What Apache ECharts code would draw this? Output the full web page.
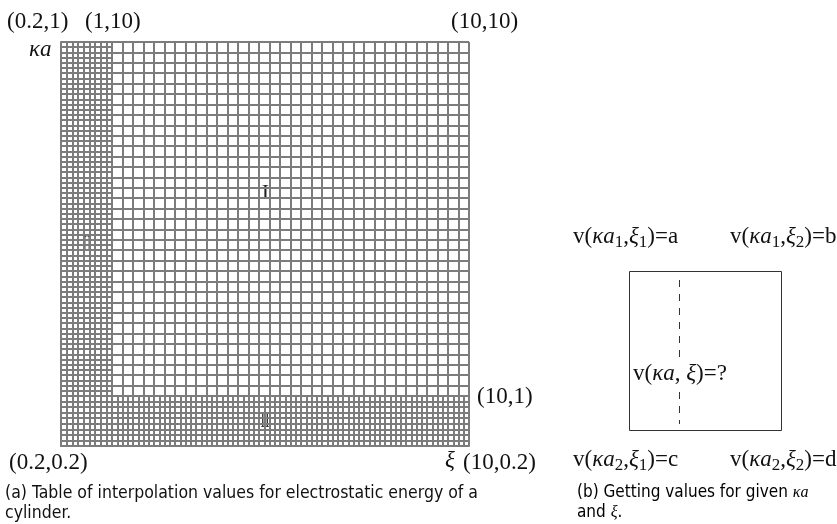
<!DOCTYPE html>
<html>
<head>
<meta charset="utf-8">
<script src="https://cdn.jsdelivr.net/npm/echarts@6/dist/echarts.min.js"></script>
<style>
  html, body { margin: 0; padding: 0; background: #fff; }
  #main { width: 837px; height: 524px; }
</style>
</head>
<body>
<div id="main"></div>
<script>
// Interpolation table layout: a fine strip for small values, coarse cells elsewhere,
// with the coarse cells split in two inside the fine strips.
const fineCells = 9;      // cells across the fine strip (0.2 .. 1)
const coarseCells = 34;   // cells across the coarse range (1 .. 10)
const splitFactor = 2;    // coarse cells are halved inside the fine strips

const cornerLabels = ['(0.2,1)', '(1,10)', '(10,10)', '(0.2,0.2)', '(10,0.2)', '(10,1)'];
const regionLabels = ['I', 'II', 'II'];
const cellLabels = ['a', 'b', 'c', 'd'];
const captions = [
  '(a) Table of interpolation values for electrostatic energy of a\ncylinder.',
  '(b) Getting values for given '
];

const SERIF = '"Liberation Serif", "DejaVu Serif", serif';
const CAPTION = '"Liberation Sans Narrow", "DejaVu Sans Condensed", "Liberation Sans", sans-serif';
const MESH = '#7c7c7c';

// panel geometry (pixels)
const X0 = 61, X1 = 112, X2 = 469;
const Y0 = 42, Y1 = 396, Y2 = 446;

// each panel: [left, top, width, height, columns, rows]
const panels = [
  [X0, Y0, X1 - X0, Y1 - Y0, fineCells, coarseCells * splitFactor],
  [X1, Y0, X2 - X1, Y1 - Y0, coarseCells, coarseCells],
  [X0, Y1, X1 - X0, Y2 - Y1, fineCells, fineCells],
  [X1, Y1, X2 - X1, Y2 - Y1, coarseCells * splitFactor, fineCells]
];

const grids = [], xAxes = [], yAxes = [], series = [];
panels.forEach((p, i) => {
  grids.push({ left: p[0], top: p[1], width: p[2], height: p[3], containLabel: false });
  const mk = (max) => ({
    type: 'value', min: 0, max: max, interval: 1, gridIndex: i,
    axisLabel: { show: false }, axisTick: { show: false },
    axisLine: { show: true, lineStyle: { color: MESH, width: 2 } },
    splitLine: { show: true, showMinLine: true, showMaxLine: true,
      lineStyle: { color: MESH, width: 2 } }
  });
  xAxes.push(mk(p[4]));
  yAxes.push(mk(p[5]));
  series.push({ type: 'scatter', xAxisIndex: i, yAxisIndex: i, data: [], silent: true });
});

const FS = 23;
function txt(x, y, text, extra) {
  return {
    type: 'text', x: x, y: y, silent: true,
    style: Object.assign({ text: text, font: FS + 'px ' + SERIF, fill: '#111', textVerticalAlign: 'middle' }, extra || {})
  };
}

const rich = {
  n: { fontFamily: SERIF, fontSize: 23, color: '#111' },
  i: { fontFamily: SERIF, fontSize: 23, fontStyle: 'italic', color: '#111' },
  s: { fontFamily: SERIF, fontSize: 17, color: '#111', padding: [11, 0, 0, 0] }
};
function richTxt(x, y, str, extra) {
  return { type: 'text', x: x, y: y, silent: true, z: 10,
    style: Object.assign({ text: str, rich: rich, verticalAlign: 'middle', fill: '#111' }, extra || {}) };
}
function valueLabel(k, xi, v) {
  return '{n|v(}{i|κa}{s|' + k + '}{n|,}{i|ξ}{s|' + xi + '}{n|)=' + v + '}';
}

// region numerals, drawn narrow
function region(x, y, text, sx) {
  return { type: 'text', x: x, y: y, silent: true, scaleX: sx, originX: 0, originY: 0,
    style: { text: text, font: '22px ' + SERIF, fill: '#1e1e1e', align: 'center', verticalAlign: 'middle' } };
}

const graphic = [
  // corner coordinates
  txt(7, 22, cornerLabels[0]),
  txt(85, 22, cornerLabels[1]),
  txt(451, 22, cornerLabels[2]),
  txt(29, 50, 'κa', { font: 'italic ' + FS + 'px ' + SERIF }),
  txt(9, 463, cornerLabels[3]),
  txt(445, 461, 'ξ', { font: 'italic ' + FS + 'px ' + SERIF }),
  txt(463, 463, cornerLabels[4]),
  txt(477, 397, cornerLabels[5]),
  // region marks
  region(265.5, 193.5, regionLabels[0], 1),
  region(87, 244, regionLabels[1], 0.62),
  region(265, 421, regionLabels[2], 0.62),
  // bilinear lookup cell
  { type: 'rect', silent: true, shape: { x: 629.5, y: 271.5, width: 152, height: 159 },
    style: { fill: 'none', stroke: '#333', lineWidth: 1 } },
  { type: 'line', silent: true, shape: { x1: 679.5, y1: 280, x2: 679.5, y2: 424 },
    style: { stroke: '#333', lineWidth: 1, lineDash: [7, 7] } },
  richTxt(573, 237, valueLabel(1, 1, cellLabels[0])),
  richTxt(730, 237, valueLabel(1, 2, cellLabels[1])),
  richTxt(573, 460, valueLabel(2, 1, cellLabels[2])),
  richTxt(730, 460, valueLabel(2, 2, cellLabels[3])),
  richTxt(633, 374, '{n|v(}{i|κa}{n|, }{i|ξ}{n|)=?}', { backgroundColor: '#fff', padding: [4, 0, 4, 0] }),
  // captions
  { type: 'text', x: 5, y: 483, silent: true,
    style: { text: captions[0], font: '17.5px ' + CAPTION, fill: '#111', lineHeight: 20 } },
  { type: 'text', x: 577, y: 483, silent: true,
    style: { text: '{c|' + captions[1] + '}{ci|κa}\n{c|and }{ci|ξ}{c|.}', lineHeight: 20,
      rich: {
        c: { fontFamily: CAPTION, fontSize: 17, color: '#111', lineHeight: 20 },
        ci: { fontFamily: SERIF, fontSize: 16, fontStyle: 'italic', color: '#111', lineHeight: 20 }
      } } }
];

const chart = echarts.init(document.getElementById('main'), null, { renderer: 'canvas' });
chart.setOption({
  animation: false,
  backgroundColor: '#fff',
  grid: grids,
  xAxis: xAxes,
  yAxis: yAxes,
  series: series,
  graphic: graphic
});
</script>
</body>
</html>
